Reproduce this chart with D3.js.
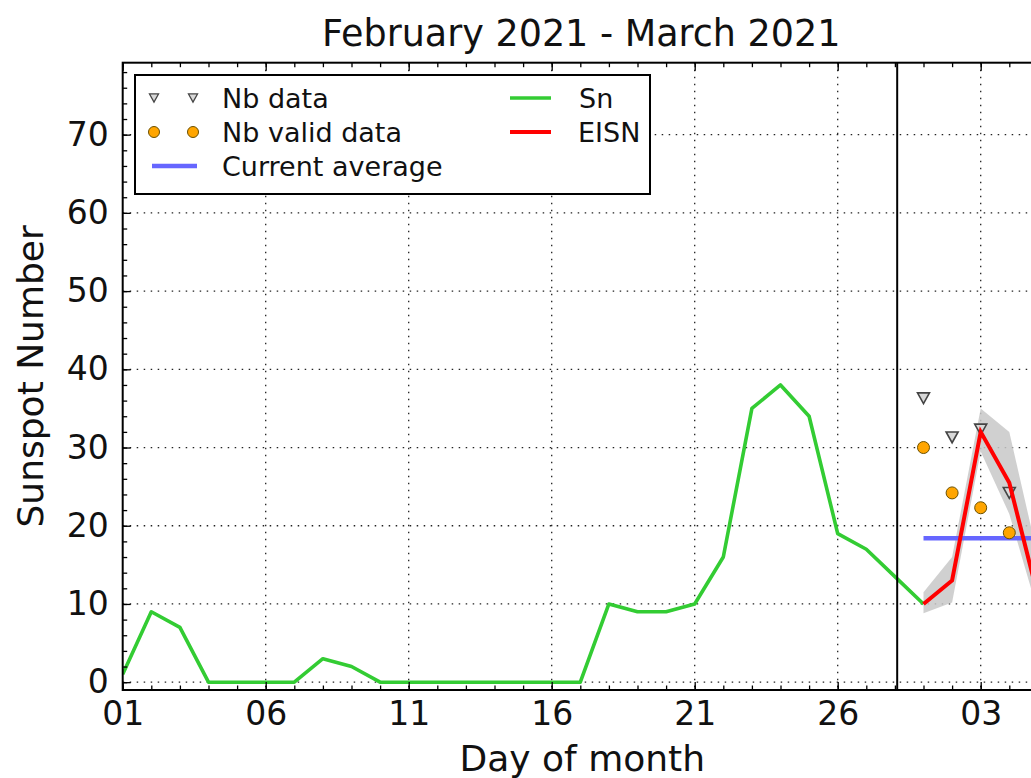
<!DOCTYPE html>
<html>
<head>
<meta charset="utf-8">
<script src="https://cdn.jsdelivr.net/npm/d3@7"></script>
<style>
  html, body { margin: 0; padding: 0; background: #fff; }
  svg { display: block; font-family: "DejaVu Sans", sans-serif; }
</style>
</head>
<body>
<svg id="chart" width="1031" height="778"></svg>
<script>
// ---- Data ----
const snDays = [1,2,3,4,5,6,7,8,9,10,11,12,13,14,15,16,17,18,19,20,21,22,23,24,25,26,27,28,29];
const snValues = [1,9,7,0,0,0,0,3,2,0,0,0,0,0,0,0,0,10,9,9,10,16,35,38,34,19,17,13.5,10];

const eisnDays = [29,30,31,32,33];
const eisnValues = [10,13,32,25.5,11];
const eisnLow = [8.8,10.2,29.5,21.5,9];
const eisnHigh = [11.5,16,35,32,16];

const nbDays = [29,30,31,32];
const nbData = [36.3,31.3,32.3,24.2];
const nbValid = [30,24.2,22.3,19.1];

const avgDays = [29,33];
const avgValue = 18.4;

const nowDay = 28.08;

const xMajorTicks = [1,6,11,16,21,26,31];
const xTickLabels = ["01","06","11","16","21","26","03"];
const yMajorTicks = [0,10,20,30,40,50,60,70];

const titleText = "February 2021 - March 2021";
const xLabel = "Day of month";
const yLabel = "Sunspot Number";

// ---- Layout ----
const svg = d3.select("#chart");
const pL = 122.7, pR = 1037.9, pT = 62.7, pB = 690;
const x = d3.scaleLinear().domain([1,33]).range([pL,pR]);
const y = d3.scaleLinear().domain([-1,79.2]).range([pB,pT]);

svg.append("defs").append("clipPath").attr("id","clip")
  .append("rect").attr("x",pL).attr("y",pT).attr("width",pR-pL).attr("height",pB-pT);

// grid
const grid = svg.append("g").attr("stroke","#222").attr("stroke-width",1.3).attr("stroke-dasharray","1.5,5.5");
grid.selectAll("line.h").data(yMajorTicks).join("line").attr("class","h")
  .attr("x1",pL).attr("x2",pR).attr("y1",d=>y(d)).attr("y2",d=>y(d));
grid.selectAll("line.v").data(xMajorTicks.filter(d=>d>1)).join("line").attr("class","v")
  .attr("y1",pT).attr("y2",pB).attr("x1",d=>x(d)).attr("x2",d=>x(d));

const plot = svg.append("g").attr("clip-path","url(#clip)");

// band
const band = eisnDays.map((d,i)=>({d, lo:eisnLow[i], hi:eisnHigh[i]}));
plot.append("path").datum(band)
  .attr("fill","#c8c8c8").attr("fill-opacity",0.85)
  .attr("d", d3.area().x(p=>x(p.d)).y0(p=>y(p.lo)).y1(p=>y(p.hi)));

// Sn line
plot.append("path").datum(snDays.map((d,i)=>[d,snValues[i]]))
  .attr("fill","none").attr("stroke","#33cc33").attr("stroke-width",3.6)
  .attr("stroke-linejoin","round")
  .attr("d", d3.line().x(p=>x(p[0])).y(p=>y(p[1])));

// current average
plot.append("line")
  .attr("x1",x(avgDays[0])).attr("x2",x(avgDays[1]))
  .attr("y1",y(avgValue)).attr("y2",y(avgValue))
  .attr("stroke","#6666ff").attr("stroke-width",4.5);

// Nb data triangles
const tri = (cx,cy,s)=>`M${cx-s},${cy-s*0.9}L${cx+s},${cy-s*0.9}L${cx},${cy+s*0.9}Z`;
plot.selectAll("path.nb").data(nbDays.map((d,i)=>[d,nbData[i]])).join("path").attr("class","nb")
  .attr("d",p=>tri(x(p[0]),y(p[1]),6))
  .attr("fill","#d8d8d8").attr("stroke","#444").attr("stroke-width",1.6);

// Nb valid circles
plot.selectAll("circle.nv").data(nbDays.map((d,i)=>[d,nbValid[i]])).join("circle").attr("class","nv")
  .attr("cx",p=>x(p[0])).attr("cy",p=>y(p[1])).attr("r",6)
  .attr("fill","#ffa500").attr("stroke","#6b5000").attr("stroke-width",1);

// EISN line
plot.append("path").datum(eisnDays.map((d,i)=>[d,eisnValues[i]]))
  .attr("fill","none").attr("stroke","#ff0000").attr("stroke-width",4)
  .attr("stroke-linejoin","miter")
  .attr("d", d3.line().x(p=>x(p[0])).y(p=>y(p[1])));

// vertical "now" line
svg.append("line").attr("x1",x(nowDay)).attr("x2",x(nowDay)).attr("y1",pT).attr("y2",pB)
  .attr("stroke","#000").attr("stroke-width",2);

// axes (ticks inward)
const xMinor = d3.range(1,34);
const yMinor = d3.range(0,80,2);
function styleAxis(g){ g.select(".domain").remove(); g.selectAll("line").attr("stroke","#000").attr("stroke-width",1.3); }

svg.append("g").attr("transform",`translate(0,${pB})`)
  .call(d3.axisBottom(x).tickValues(xMinor).tickSizeInner(-4.5).tickSizeOuter(0).tickFormat(""))
  .call(styleAxis);
svg.append("g").attr("transform",`translate(0,${pT})`)
  .call(d3.axisTop(x).tickValues(xMinor).tickSizeInner(-4.5).tickSizeOuter(0).tickFormat(""))
  .call(styleAxis);
svg.append("g").attr("transform",`translate(0,${pT})`)
  .call(d3.axisTop(x).tickValues(xMajorTicks).tickSizeInner(-8).tickSizeOuter(0).tickFormat(""))
  .call(styleAxis);
const xa = svg.append("g").attr("transform",`translate(0,${pB})`)
  .call(d3.axisBottom(x).tickValues(xMajorTicks).tickSizeInner(-8).tickSizeOuter(0).tickPadding(12)
    .tickFormat((d,i)=>xTickLabels[i]))
  .call(styleAxis);
xa.selectAll("text").attr("font-size",33).attr("fill","#111").attr("font-family","DejaVu Sans");

svg.append("g").attr("transform",`translate(${pL},0)`)
  .call(d3.axisLeft(y).tickValues(yMinor).tickSizeInner(-4.5).tickSizeOuter(0).tickFormat(""))
  .call(styleAxis);
const ya = svg.append("g").attr("transform",`translate(${pL},0)`)
  .call(d3.axisLeft(y).tickValues(yMajorTicks).tickSizeInner(-8).tickSizeOuter(0).tickPadding(14))
  .call(styleAxis);
ya.selectAll("text").attr("font-size",33).attr("fill","#111").attr("font-family","DejaVu Sans");

// spines
svg.append("rect").attr("x",pL).attr("y",pT).attr("width",pR-pL).attr("height",pB-pT)
  .attr("fill","none").attr("stroke","#000").attr("stroke-width",2);

// legend
const lg = svg.append("g");
lg.append("rect").attr("x",135).attr("y",75).attr("width",515).attr("height",119)
  .attr("fill","#fff").attr("stroke","#000").attr("stroke-width",2);
const rows = [98,132,166];
[154,193].forEach(cx=>{
  lg.append("path").attr("d",tri(cx,rows[0],4.5)).attr("fill","#d8d8d8").attr("stroke","#444").attr("stroke-width",1.3);
  lg.append("circle").attr("cx",cx).attr("cy",rows[1]).attr("r",5.5).attr("fill","#ffa500").attr("stroke","#6b5000").attr("stroke-width",1);
});
lg.append("line").attr("x1",152).attr("x2",197).attr("y1",rows[2]).attr("y2",rows[2]).attr("stroke","#6666ff").attr("stroke-width",4.5);
lg.append("line").attr("x1",510).attr("x2",551).attr("y1",rows[0]).attr("y2",rows[0]).attr("stroke","#33cc33").attr("stroke-width",3.6);
lg.append("line").attr("x1",510).attr("x2",551).attr("y1",rows[1]).attr("y2",rows[1]).attr("stroke","#ff0000").attr("stroke-width",4);
const legText = [["Nb data",222,rows[0]],["Nb valid data",222,rows[1]],["Current average",222,rows[2]],["Sn",579,rows[0]],["EISN",578,rows[1]]];
lg.selectAll("text").data(legText).join("text")
  .attr("x",d=>d[1]).attr("y",d=>d[2]).attr("dy","0.36em")
  .attr("font-size",27).attr("fill","#111").text(d=>d[0]);

// titles
svg.append("text").attr("x",(pL+pR)/2 + 1).attr("y",46).attr("text-anchor","middle")
  .attr("font-size",36.5).attr("fill","#111").text(titleText);
svg.append("text").attr("x",(pL+pR)/2 + 2).attr("y",771).attr("text-anchor","middle")
  .attr("font-size",36).attr("fill","#111").text(xLabel);
svg.append("text").attr("transform",`translate(43,${(pT+pB)/2}) rotate(-90)`).attr("text-anchor","middle")
  .attr("font-size",36).attr("fill","#111").text(yLabel);
</script>
</body>
</html>
